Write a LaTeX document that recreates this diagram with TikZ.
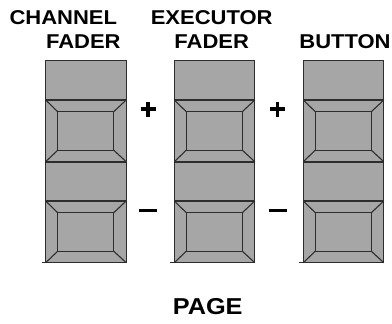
\documentclass[tikz,border=0pt]{standalone}
\usepackage{fontspec}
\newfontfamily\lab{Liberation Sans}[FakeStretch=1.1, BoldFeatures={FakeStretch=1.1}]
\definecolor{keygray}{RGB}{166,166,166}
\definecolor{edge}{RGB}{45,45,45}
\begin{document}
\begin{tikzpicture}[x=1pt,y=-1pt,
  key/.style={fill=keygray, draw=edge, line width=1.3pt, line join=miter},
  bevel/.style={draw=edge, line width=1.1pt},
  lbl/.style={inner sep=0pt, anchor=base, font=\lab\bfseries\fontsize{20}{20}\selectfont},
  sign/.style={line width=3.4pt, black}]
\useasboundingbox (0,0) rectangle (392,324);

\foreach \x in {45.7,174.3,303.3} {
  \foreach \y in {60.7,161.7} {
    % gray top block
    \draw[key] (\x,\y) rectangle (\x+80.5,\y+39.3);
    % button with bevel
    \coordinate (o1) at (\x,\y+39.3);
    \coordinate (o2) at (\x+80.5,\y+39.3);
    \coordinate (o3) at (\x+80.5,\y+101);
    \coordinate (o4) at (\x,\y+101);
    \coordinate (i1) at (\x+12,\y+51);
    \coordinate (i2) at (\x+68,\y+51);
    \coordinate (i3) at (\x+68,\y+89.5);
    \coordinate (i4) at (\x+12,\y+89.5);
    \draw[key] (o1) rectangle (o3);
    \draw[bevel] (i1) rectangle (i3);
    \draw[bevel] (o1) -- (i1) (o2) -- (i2) (o3) -- (i3) (o4) -- (i4);
  }
  % thicker divider between the two units
  \coordinate (d1) at (\x,161.7);
  \coordinate (d2) at (\x+80.5,161.7);
  \draw[edge, line width=2.2pt] (d1) -- (d2);
  % short bottom extension on the left
  \coordinate (e1) at (\x-4,262.7);
  \coordinate (e2) at (\x,262.7);
  \draw[edge, line width=1.3pt] (e1) -- (e2);
}

% labels
\node[lbl] (ch) at (63.3,24.3) {CHANNEL};
\node[lbl] (f1) at (83.3,48.7) {FADER};
\node[lbl] (ex) at (211.7,24.3) {EXECUTOR};
\node[lbl] (f2) at (211.7,48.7) {FADER};
\node[lbl] (bt) at (345,48.7) {BUTTON};
\node[lbl, font=\lab\bfseries\fontsize{23}{23}\selectfont] (pg) at (207.7,314.3) {PAGE};

% plus and minus signs
\foreach \cx in {148,277.5} {
  \coordinate (pl) at (\cx-7.5,109);
  \coordinate (pr) at (\cx+7.5,109);
  \coordinate (pt) at (\cx,101.5);
  \coordinate (pb) at (\cx,116.5);
  \draw[sign] (pl) -- (pr) (pt) -- (pb);
  \coordinate (ml) at (\cx-9,210.3);
  \coordinate (mr) at (\cx+9,210.3);
  \draw[line width=3pt] (ml) -- (mr);
}
\end{tikzpicture}
\end{document}
